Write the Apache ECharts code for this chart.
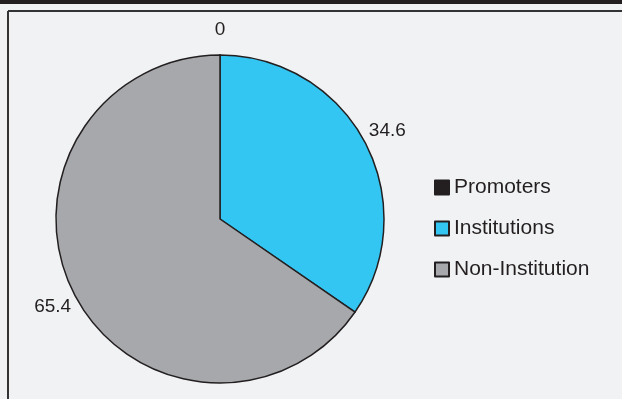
<!DOCTYPE html>
<html>
<head>
<meta charset="utf-8">
<script src="https://cdn.jsdelivr.net/npm/echarts@6/dist/echarts.min.js"></script>
<style>
  html, body { margin: 0; padding: 0; background: #f1f2f4; }
  #chart { width: 622px; height: 399px; }
</style>
</head>
<body>
<div id="chart"></div>
<script>
const categories = ['Promoters', 'Institutions', 'Non-Institution']
const values = [0, 34.6, 65.4]
const colors = ['#231f20', '#33c6f2', '#a7a8ab']

const chart = echarts.init(document.getElementById('chart'))

const pieData = categories.map((name, i) => ({
    name: name,
    value: values[i],
    itemStyle: { color: colors[i] }
}))

const option = {
    backgroundColor: '#f1f2f4',
    animation: false,
    textStyle: { fontFamily: 'Liberation Sans, Arial, sans-serif' },
    graphic: [
        { type: 'rect', shape: { x: 0, y: 0, width: 622, height: 4 }, style: { fill: '#231f20' } },
        { type: 'line', shape: { x1: 8, y1: 11, x2: 622, y2: 11 }, style: { stroke: '#333', lineWidth: 2 } },
        { type: 'line', shape: { x1: 8, y1: 11, x2: 8, y2: 399 }, style: { stroke: '#333', lineWidth: 2 } }
    ],
    legend: {
        orient: 'vertical',
        left: 434,
        top: 177,
        padding: 0,
        itemWidth: 14,
        itemHeight: 14,
        itemGap: 20,
        icon: 'rect',
        data: categories,
        textStyle: { fontSize: 21, color: '#231f20' }
    },
    series: [
        {
            type: 'pie',
            center: [220, 219],
            radius: 164,
            startAngle: 90,
            clockwise: true,
            label: { show: false },
            labelLine: { show: false },
            itemStyle: { borderColor: '#231f20', borderWidth: 1.5 },
            emphasis: { disabled: true },
            data: pieData
        },
        {
            // ring only used to place the value labels outside the pie
            type: 'pie',
            center: [220, 219],
            radius: [179, 193],
            startAngle: 90,
            clockwise: true,
            silent: true,
            itemStyle: { color: 'transparent' },
            label: {
                show: true,
                position: 'inside',
                formatter: '{c}',
                fontSize: 19,
                color: '#231f20'
            },
            labelLine: { show: false },
            emphasis: { disabled: true },
            data: categories.map((name, i) => ({ name: name, value: values[i] }))
        }
    ]
}

chart.setOption(option)
</script>
</body>
</html>
